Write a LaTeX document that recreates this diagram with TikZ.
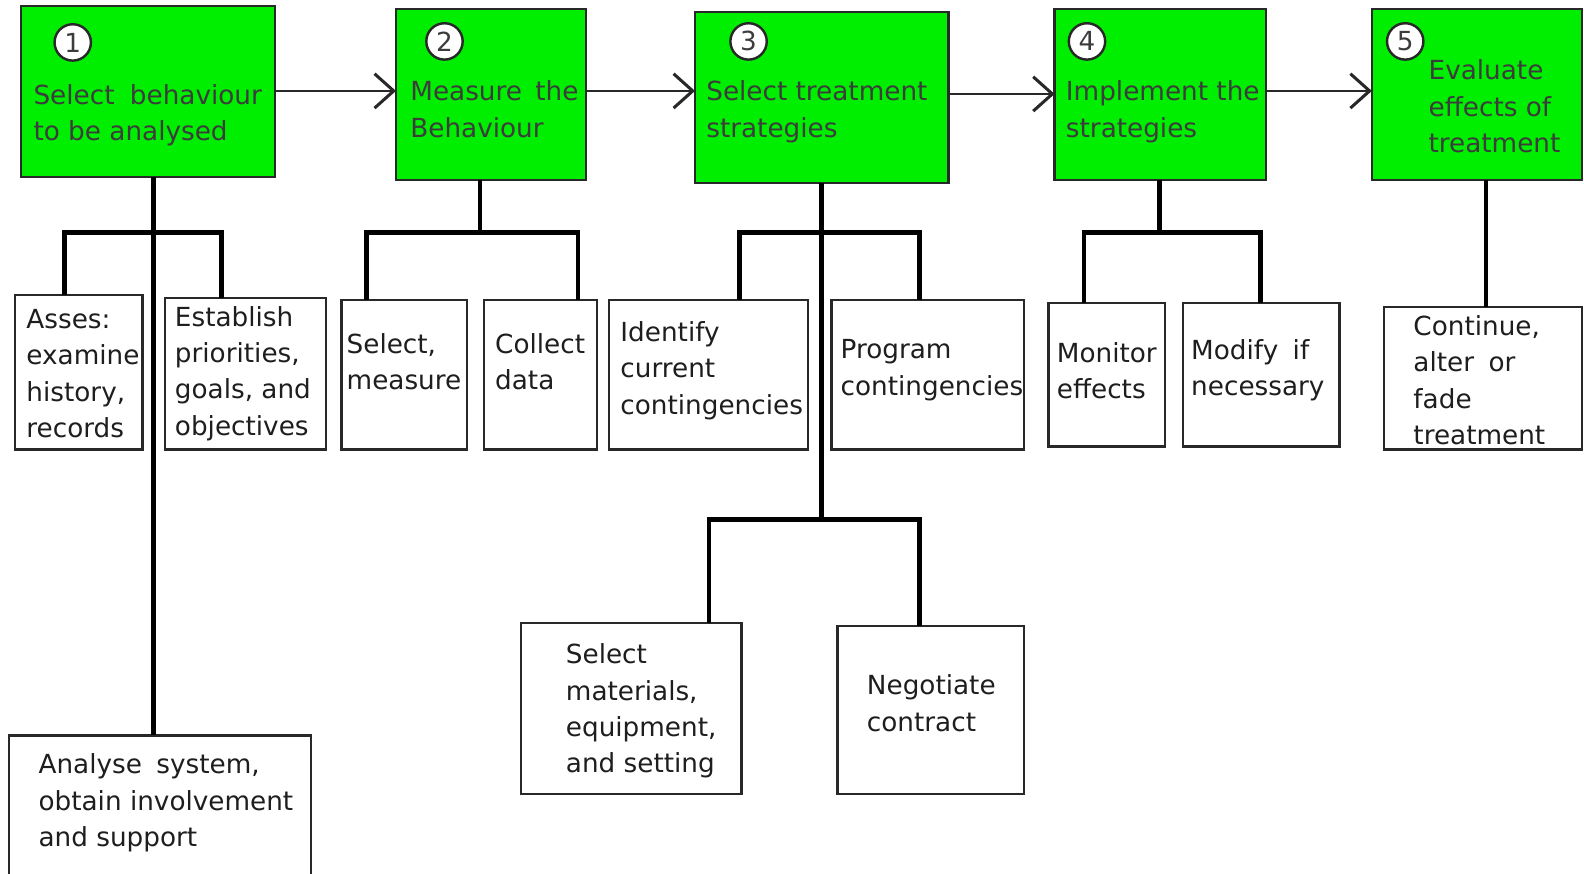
\documentclass[tikz,border=0pt]{standalone}
\usepackage{fontspec}
\setmainfont{DejaVu Sans}
\usetikzlibrary{arrows.meta}
\definecolor{boxgreen}{RGB}{0,238,0}
\definecolor{gtext}{RGB}{60,60,60}
\definecolor{stxt}{RGB}{30,30,30}
\definecolor{edge}{RGB}{40,40,40}
\begin{document}
\begin{tikzpicture}[x=1pt,y=-1pt,
  stepbox/.style={draw=edge, line width=2.4pt, fill=boxgreen, inner sep=0pt, outer sep=0pt, anchor=north west},
  subbox/.style={draw=edge, line width=2.2pt, fill=white, inner sep=0pt, outer sep=0pt, anchor=north west},
  num/.style={circle, draw=edge, line width=2.4pt, fill=white, minimum size=36pt, inner sep=0pt, font=\fontsize{26}{26}\selectfont, text=gtext},
  txt/.style={anchor=north west, inner sep=0pt, align=left, font=\fontsize{26}{36}\selectfont},
  gtxt/.style={txt, text=gtext},
  btxt/.style={txt, text=stxt},
  tree/.style={line width=4.5pt, line join=miter},
  arr/.style={draw=edge, line width=2.4pt, -{Straight Barb[length=19pt,width=34pt,line width=3pt]}},
]
\useasboundingbox (0,0) rectangle (1568,865);
\clip (0,0) rectangle (1568,865);
\fill[white] (0,0) rectangle (1568,865);

% main steps
\node[stepbox, minimum width=251pt, minimum height=169pt] (b1) at (21,6) {};
\node[stepbox, minimum width=188pt, minimum height=169pt] (b2) at (392,9) {};
\node[stepbox, minimum width=251pt, minimum height=169pt] (b3) at (688,12) {};
\node[stepbox, minimum width=209pt, minimum height=169pt] (b4) at (1044,9) {};
\node[stepbox, minimum width=208pt, minimum height=169pt] (b5) at (1358,9) {};

\node[num] (c1) at (72,42) {1};
\node[num] (c2) at (440,41) {2};
\node[num] (c3) at (741,41) {3};
\node[num] (c4) at (1076,41) {4};
\node[num] (c5) at (1391,41) {5};

\node[gtxt] (t1) at (33,83) {Select\hspace{7pt} behaviour\\to be analysed};
\node[gtxt] (t2) at (406,80) {Measure\hspace{5pt} the\\Behaviour};
\node[gtxt] (t3) at (699,80) {Select treatment\\strategies};
\node[gtxt] (t4) at (1055,80) {Implement the\\strategies};
\node[gtxt] (t5) at (1414,59) {Evaluate\\effects of\\treatment};

% arrows
\coordinate (y12) at (0,90);
\coordinate (y23) at (0,90);
\coordinate (y34) at (0,93);
\coordinate (y45) at (0,90);
\draw[arr] (b1.east |- y12) -- (b2.west |- y12);
\draw[arr] (b2.east |- y23) -- (b3.west |- y23);
\draw[arr] (b3.east |- y34) -- (b4.west |- y34);
\draw[arr] (b4.east |- y45) -- (b5.west |- y45);

% sub boxes
\node[subbox, minimum width=126pt, minimum height=153pt] (as) at (15,292) {};
\node[subbox, minimum width=160pt, minimum height=150pt] (es) at (163,295) {};
\node[subbox, minimum width=299pt, minimum height=150pt] (an) at (9,728) {};
\node[subbox, minimum width=124pt, minimum height=148pt] (sm) at (338,297) {};
\node[subbox, minimum width=112pt, minimum height=148pt] (cd) at (479,297) {};
\node[subbox, minimum width=197pt, minimum height=148pt] (id) at (603,297) {};
\node[subbox, minimum width=191pt, minimum height=148pt] (pc) at (823,297) {};
\node[subbox, minimum width=218pt, minimum height=169pt] (sl) at (516,617) {};
\node[subbox, minimum width=185pt, minimum height=166pt] (ng) at (829,620) {};
\node[subbox, minimum width=115pt, minimum height=142pt] (mo) at (1038,300) {};
\node[subbox, minimum width=155pt, minimum height=142pt] (md) at (1171,300) {};
\node[subbox, minimum width=196pt, minimum height=141pt] (co) at (1370,304) {};

\node[btxt] (tas) at (26,306) {Asses:\\examine\\history,\\records};
\node[btxt] (tes) at (173,303) {Establish\\priorities,\\goals, and\\objectives};
\node[btxt] (tan) at (38,746) {Analyse\hspace{6pt} system,\\obtain involvement\\and support};
\node[btxt] (tsm) at (343,330) {Select,\\measure};
\node[btxt] (tcd) at (490,330) {Collect\\data};
\node[btxt] (tid) at (614,318) {Identify\\current\\contingencies};
\node[btxt] (tpc) at (832,336) {Program\\contingencies};
\node[btxt] (tsl) at (560,637) {Select\\materials,\\equipment,\\and setting};
\node[btxt] (tng) at (858,668) {Negotiate\\contract};
\node[btxt] (tmo) at (1046,339) {Monitor\\effects};
\node[btxt] (tmd) at (1179,336) {Modify\hspace{6pt} if\\necessary};
\node[btxt] (tco) at (1399,312) {Continue,\\alter\hspace{6pt} or\\fade\\treatment};

% tree connectors
\coordinate (s1) at (152,230);
\coordinate (l1) at (64,230);
\coordinate (r1) at (219,230);
\draw[tree] (b1.south -| s1) -- (an.north -| s1);
\draw[tree] (as.north -| l1) -- (l1) -- (r1) -- (es.north -| r1);

\coordinate (s2) at (475,230);
\coordinate (l2) at (363,230);
\coordinate (r2) at (572,230);
\draw[tree] (b2.south -| s2) -- (s2);
\draw[tree] (sm.north -| l2) -- (l2) -- (r2) -- (cd.north -| r2);

\coordinate (s3) at (813,514);
\coordinate (l3) at (732,230);
\coordinate (r3) at (910,230);
\coordinate (l3b) at (702,514);
\coordinate (r3b) at (910,514);
\draw[tree] (b3.south -| s3) -- (s3);
\draw[tree] (id.north -| l3) -- (l3) -- (r3) -- (pc.north -| r3);
\draw[tree] (sl.north -| l3b) -- (l3b) -- (r3b) -- (ng.north -| r3b);

\coordinate (s4) at (1148,230);
\coordinate (l4) at (1073,230);
\coordinate (r4) at (1248,230);
\draw[tree] (b4.south -| s4) -- (s4);
\draw[tree] (mo.north -| l4) -- (l4) -- (r4) -- (md.north -| r4);

\coordinate (s5) at (1471,230);
\draw[tree] (b5.south -| s5) -- (co.north -| s5);
\end{tikzpicture}
\end{document}
